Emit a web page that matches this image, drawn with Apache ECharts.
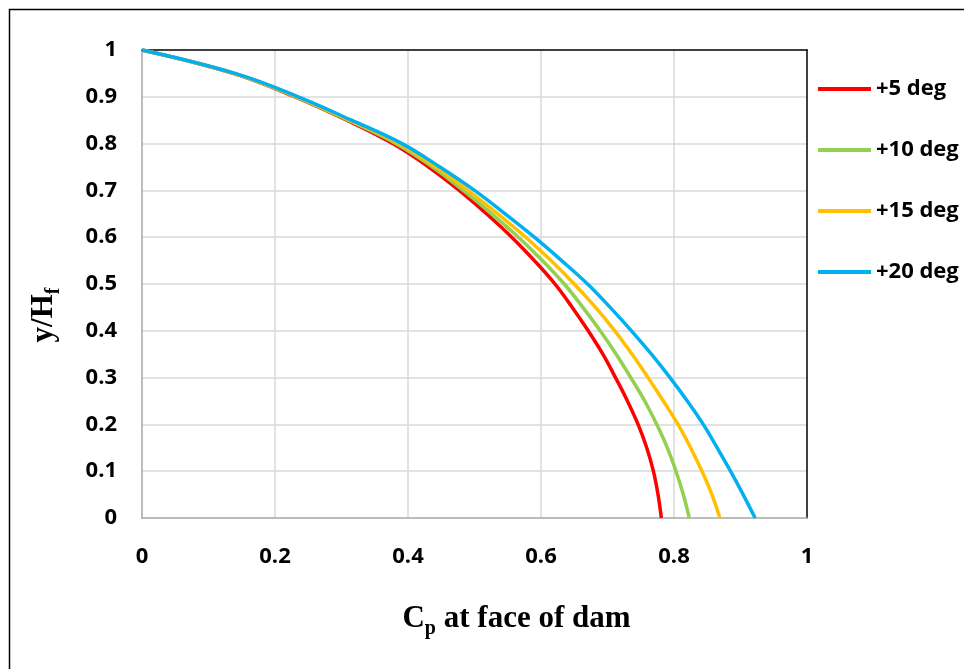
<!DOCTYPE html>
<html>
<head>
<meta charset="utf-8">
<script src="https://cdn.jsdelivr.net/npm/echarts@6/dist/echarts.min.js"></script>
<style>
html,body{margin:0;padding:0;background:#fff;}
#chart{width:964px;height:669px;}
</style>
</head>
<body>
<div id="chart"></div>
<script>
// y/Hf values (shared by every series)
var yRatio = [1, 0.95, 0.9, 0.85, 0.8, 0.75, 0.7, 0.65, 0.6, 0.55, 0.5, 0.45, 0.4, 0.35, 0.3, 0.25, 0.2, 0.15, 0.1, 0.05, 0];
// Cp at face of dam for each slope
var cp5  = [0, 0.137, 0.230, 0.308, 0.377, 0.431, 0.477, 0.518, 0.556, 0.590, 0.621, 0.647, 0.671, 0.693, 0.712, 0.730, 0.746, 0.759, 0.769, 0.776, 0.781];
var cp10 = [0, 0.138, 0.231, 0.310, 0.382, 0.437, 0.483, 0.526, 0.566, 0.602, 0.635, 0.663, 0.689, 0.713, 0.735, 0.756, 0.774, 0.790, 0.803, 0.814, 0.823];
var cp15 = [0, 0.139, 0.233, 0.312, 0.387, 0.442, 0.490, 0.535, 0.577, 0.615, 0.650, 0.682, 0.711, 0.737, 0.761, 0.784, 0.806, 0.825, 0.842, 0.857, 0.869];
var cp20 = [0, 0.140, 0.235, 0.315, 0.391, 0.448, 0.500, 0.546, 0.590, 0.631, 0.670, 0.704, 0.736, 0.766, 0.794, 0.820, 0.844, 0.865, 0.885, 0.904, 0.922];
var seriesNames = ['+5 deg', '+10 deg', '+15 deg', '+20 deg'];
var seriesColors = ['#FF0000', '#92D050', '#FFC000', '#00B0F0'];
var xTicks = [0, 0.2, 0.4, 0.6, 0.8, 1];
var yTicks = [0, 0.1, 0.2, 0.3, 0.4, 0.5, 0.6, 0.7, 0.8, 0.9, 1];

var allCp = [cp5, cp10, cp15, cp20];
function pairs(xs) { return xs.map(function (x, i) { return [x, yRatio[i]]; }); }
function fmt(v) { return String(Math.round(v * 10) / 10); }

var labelFont = { fontFamily: 'Open Sans', fontWeight: 'bold', fontSize: 22, color: '#000' };
var titleRich = {
  a: { fontFamily: 'Liberation Serif', fontWeight: 'bold', fontSize: 31, color: '#000', lineHeight: 40, verticalAlign: 'middle' },
  b: { fontFamily: 'Liberation Serif', fontWeight: 'bold', fontSize: 20, color: '#000', lineHeight: 40, verticalAlign: 'bottom' }
};

var chart = echarts.init(document.getElementById('chart'), null, { renderer: 'canvas' });
chart.setOption({
  animation: false,
  backgroundColor: '#fff',
  graphic: [{
    type: 'rect', left: 7, top: 7, silent: true,
    shape: { x: 0, y: 0, width: 980, height: 700 },
    style: { fill: 'none', stroke: '#000', lineWidth: 1.5 }
  }],
  grid: { left: 142, right: 157, top: 50, bottom: 151, show: false },
  legend: {
    orient: 'vertical', left: 818, top: 77, padding: 0,
    icon: 'rect', itemWidth: 53, itemHeight: 4, itemGap: 37,
    data: seriesNames,
    textStyle: { fontFamily: 'Open Sans', fontWeight: 'bold', fontSize: 22, color: '#000', lineHeight: 24 }
  },
  xAxis: [{
    type: 'value', min: 0, max: 1, interval: 0.2,
    axisLine: { show: true, onZero: false, lineStyle: { color: '#a6a6a6', width: 1.5 } },
    axisTick: { show: false },
    splitLine: { show: true, showMinLine: false, showMaxLine: false, lineStyle: { color: '#d9d9d9', width: 1.5 } },
    axisLabel: Object.assign({ margin: 28, formatter: fmt, customValues: xTicks }, labelFont),
    name: '{a|C}{b|p}{a| at face of dam}',
    nameLocation: 'middle', nameGap: 81,
    nameTextStyle: { padding: [0, 0, 0, 84], rich: titleRich }
  }, {
    type: 'value', min: 0, max: 1, position: 'top',
    axisLine: { show: true, onZero: false, lineStyle: { color: '#000', width: 1.5 } },
    axisTick: { show: false }, axisLabel: { show: false }, splitLine: { show: false }
  }],
  yAxis: [{
    type: 'value', min: 0, max: 1, interval: 0.1,
    axisLine: { show: true, onZero: false, lineStyle: { color: '#a6a6a6', width: 1.5 } },
    axisTick: { show: false },
    splitLine: { show: true, showMinLine: false, showMaxLine: false, lineStyle: { color: '#d9d9d9', width: 1.5 } },
    axisLabel: Object.assign({ margin: 25, formatter: fmt, customValues: yTicks }, labelFont),
    name: '{a|y/H}{b|f}',
    nameLocation: 'middle', nameGap: 78, nameRotate: 90,
    nameTextStyle: { padding: [0, 62, 0, 0], rich: titleRich }
  }, {
    type: 'value', min: 0, max: 1, position: 'right',
    axisLine: { show: true, onZero: false, lineStyle: { color: '#000', width: 1.5 } },
    axisTick: { show: false }, axisLabel: { show: false }, splitLine: { show: false }
  }],
  series: allCp.map(function (xs, i) {
    return {
      name: seriesNames[i], type: 'line', data: pairs(xs),
      xAxisIndex: 0, yAxisIndex: 0,
      symbol: 'none', smooth: 0.4, clip: false,
      lineStyle: { color: seriesColors[i], width: 3.5 },
      itemStyle: { color: seriesColors[i] },
      z: 2 + i
    };
  })
});
</script>
</body>
</html>
